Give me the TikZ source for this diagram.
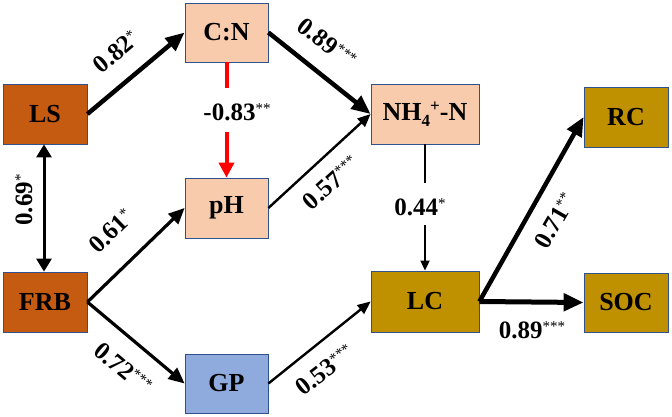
\documentclass[tikz,border=0pt]{standalone}
\usepackage{fontspec}
\setmainfont{Liberation Serif}
\usetikzlibrary{arrows.meta}
\definecolor{rust}{HTML}{C55A11}
\definecolor{peach}{HTML}{F8CBAD}
\definecolor{skyblue}{HTML}{8FAADC}
\definecolor{gold}{HTML}{BF9000}
\definecolor{frame}{HTML}{2F528F}
\definecolor{neg}{HTML}{FF0000}
% significance stars: lighter, smaller, raised
\newcommand{\stars}[1]{\raisebox{7pt}{\fontsize{15}{15}\selectfont\mdseries#1}}
\newcommand{\smallidx}[2]{\raisebox{#1}{\fontsize{17}{17}\selectfont#2}}
\begin{document}
\begin{tikzpicture}[x=1pt,y=-1pt,
  box/.style={draw=frame, line width=0.8pt, inner sep=0pt,
    font=\fontsize{26}{30}\selectfont\bfseries, text=black},
  coef/.style={font=\fontsize{25}{30}\selectfont\bfseries, inner sep=0pt},
  heavy/.style={line width=4.5pt, -{Triangle[length=19pt,width=16pt]}},
  medium/.style={line width=3.2pt, -{Triangle[length=16pt,width=14pt]}},
  light/.style={line width=2.4pt, -{Triangle[length=13pt,width=11pt]}},
  thin/.style={line width=1.8pt, -{Triangle[length=10pt,width=9pt]}}]
\useasboundingbox (0,0) rectangle (672,417);

% variables
\node[box, fill=rust, minimum width=84pt, minimum height=60pt] (LS) at (45,114) {LS};
\node[box, fill=rust, minimum width=84pt, minimum height=60pt] (FRB) at (45,302) {FRB};
\node[box, fill=peach, minimum width=83pt, minimum height=59pt] (CN) at (226.5,32.5) {C:N};
\node[box, fill=peach, minimum width=83pt, minimum height=60pt] (pH) at (226.5,208) {pH};
\node[box, fill=skyblue, minimum width=83pt, minimum height=59pt] (GP) at (226.5,383.5) {GP};
\node[box, fill=peach, minimum width=108pt, minimum height=60pt] (NH) at (425,114)
  {NH\smallidx{-6pt}{4}\smallidx{9pt}{+}-N};
\node[box, fill=gold, minimum width=108pt, minimum height=61pt] (LC) at (425,301.5) {LC};
\node[box, fill=gold, minimum width=84pt, minimum height=60pt] (RC) at (626,117) {RC};
\node[box, fill=gold, minimum width=84pt, minimum height=59pt] (SOC) at (626,302.5) {SOC};

% gaps in the vertical paths for their coefficients
\coordinate (r1) at (226.5,88);
\coordinate (r2) at (226.5,132);
\coordinate (n1) at (425,183);
\coordinate (n2) at (425,225);

% paths
\draw[heavy] (LS.east) -- (CN.west);
\draw[heavy] (CN.east) -- (NH.west);
\draw[neg, line width=4pt] (CN.south) -- (r1);
\draw[neg, line width=4pt, -{Triangle[length=15pt,width=15pt]}] (r2) -- (pH.north);
\draw[light] (pH.east) -- (NH.west);
\draw[line width=3pt, {Triangle[length=13pt,width=15pt]}-{Triangle[length=13pt,width=15pt]}]
  (LS.south -| 44,0) -- (FRB.north -| 44,0);
\draw[medium] (FRB.east) -- (pH.west);
\draw[medium] (FRB.east) -- (GP.west);
\draw[light] (GP.east) -- (LC.west);
\draw[line width=1.8pt] (NH.south) -- (n1);
\draw[thin] (n2) -- (LC.north);
\draw[heavy] (LC.east) -- (RC.west);
\draw[line width=5pt, -{Triangle[length=20pt,width=17pt]}] (LC.east) -- (SOC.west);

% path coefficients
\node[coef, rotate=40] (c1) at (116,52) {0.82\stars{*}};
\node[coef, rotate=-38] (c2) at (327,43) {0.89\stars{***}};
\node[coef] (c3) at (237,112) {-0.83\stars{**}};
\node[coef, rotate=90] (c4) at (24,200) {0.69\stars{*}};
\node[coef, rotate=44] (c5) at (111,231) {0.61\stars{*}};
\node[coef, rotate=-40] (c6) at (123,368) {0.72\stars{***}};
\node[coef, rotate=42] (c7) at (331,183) {0.57\stars{***}};
\node[coef, rotate=38] (c8) at (325,370) {0.53\stars{***}};
\node[coef] (c9) at (420,207) {0.44\stars{*}};
\node[coef, rotate=60] (c10) at (555,221) {0.71\stars{**}};
\node[coef] (c11) at (532,330) {0.89\stars{***}};
\end{tikzpicture}
\end{document}
